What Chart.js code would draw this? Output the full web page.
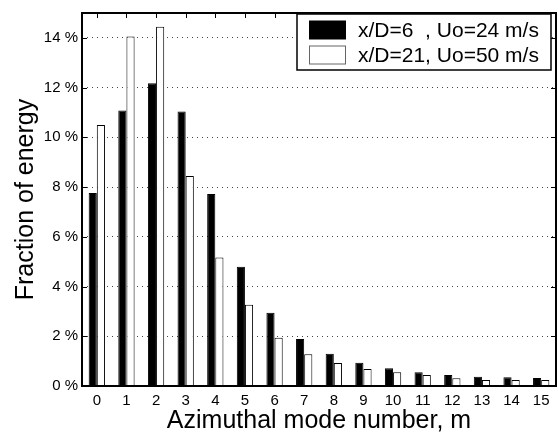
<!DOCTYPE html>
<html>
<head>
<meta charset="utf-8">
<script src="https://cdn.jsdelivr.net/npm/chart.js@4"></script>
<style>
  body { margin: 0; background: #fff; }
</style>
</head>
<body>
<canvas id="graph" width="558" height="432"></canvas>
<script>
// azimuthal mode numbers
const modes = ["0", "1", "2", "3", "4", "5", "6", "7", "8", "9", "10", "11", "12", "13", "14", "15"];
// fraction of energy in %
const nearField = [7.76, 11.08, 12.17, 11.04, 7.72, 4.8, 2.95, 1.89, 1.3, 0.94, 0.71, 0.55, 0.44, 0.37, 0.35, 0.32];
const farField = [10.5, 14.05, 14.45, 8.45, 5.17, 3.27, 1.94, 1.28, 0.92, 0.68, 0.55, 0.44, 0.31, 0.24, 0.24, 0.24];
const seriesLabels = ["x/D=6  , Uo=24 m/s", "x/D=21, Uo=50 m/s"];
const yTicks = [0, 2, 4, 6, 8, 10, 12, 14];

const fontFam = "'Liberation Sans', Arial, Helvetica, sans-serif";
const ctx = document.getElementById("graph").getContext('2d');

// box round the axes with inward ticks, like matlab draws it
const framePlugin = {
    id: 'frame',
    afterDatasetsDraw(chart) {
        const c = chart.ctx;
        const a = chart.chartArea;
        const xs = chart.scales.x;
        const ys = chart.scales.y;
        c.save();
        c.strokeStyle = '#000';
        c.lineWidth = 1;
        c.beginPath();
        yTicks.forEach(function (v) {
            let py = Math.round(ys.getPixelForValue(v)) + 0.5;
            c.moveTo(a.left, py); c.lineTo(a.left + 5, py);
            c.moveTo(a.right, py); c.lineTo(a.right - 5, py);
        });
        for (let i = 0; i < modes.length; i++) {
            let px = Math.round(xs.getPixelForValue(i)) + 0.5;
            c.moveTo(px, a.top); c.lineTo(px, a.top + 5);
        }
        c.stroke();
        c.lineWidth = 2;
        c.strokeRect(a.left, a.top, a.right - a.left, a.bottom - a.top);
        c.restore();
    }
};

// legend in the upper right corner, inside the axes
const legendPlugin = {
    id: 'boxLegend',
    afterDraw(chart) {
        const c = chart.ctx;
        const x0 = 297, y0 = 14, w = 254, h = 56;
        c.save();
        c.fillStyle = '#fff';
        c.fillRect(x0, y0, w, h);
        c.strokeStyle = '#000';
        c.lineWidth = 1.5;
        c.strokeRect(x0, y0, w, h);
        c.font = "21px " + fontFam;
        c.textBaseline = 'middle';
        chart.data.datasets.forEach(function (ds, i) {
            let cy = y0 + 16 + i * 25;
            c.fillStyle = ds.backgroundColor;
            c.fillRect(x0 + 12.5, cy - 9, 36, 18);
            c.lineWidth = 1;
            c.strokeStyle = ds.backgroundColor === '#000' ? '#000' : '#666';
            c.strokeRect(x0 + 12.5, cy - 9, 36, 18);
            c.fillStyle = '#000';
            c.fillText(ds.label, x0 + 61, cy + 1);
        });
        c.restore();
    }
};

const dataChart = new Chart(ctx, {
    type: 'bar',
    data: {
        labels: modes,
        datasets: [
            {
                label: seriesLabels[0],
                data: nearField,
                backgroundColor: '#000',
                borderColor: '#000',
                borderWidth: 1,
                categoryPercentage: 0.55,
                barPercentage: 1.0
            },
            {
                label: seriesLabels[1],
                data: farField,
                backgroundColor: '#fff',
                borderColor: '#000',
                borderWidth: 1,
                categoryPercentage: 0.55,
                barPercentage: 1.0
            }
        ]
    },
    options: {
        responsive: false,
        animation: false,
        layout: { padding: { left: 0, right: 2, top: 10, bottom: 0 } },
        plugins: {
            legend: { display: false },
            tooltip: { enabled: false }
        },
        scales: {
            x: {
                grid: { display: false, drawTicks: false },
                border: { display: false },
                ticks: {
                    color: '#000',
                    padding: 6,
                    maxRotation: 0,
                    autoSkip: false,
                    font: { family: fontFam, size: 15 }
                },
                title: {
                    display: true,
                    text: 'Azimuthal mode number, m',
                    color: '#000',
                    padding: 0,
                    font: { family: fontFam, size: 25, lineHeight: 0.9 }
                },
                afterFit: function (scale) { scale.height = 46; }
            },
            y: {
                min: 0,
                max: 15,
                grid: { color: '#444', lineWidth: 1, drawTicks: false },
                border: { display: false, dash: [1, 4] },
                afterBuildTicks: function (scale) {
                    scale.ticks = yTicks.map(function (v) { return { value: v }; });
                },
                ticks: {
                    color: '#000',
                    padding: 4,
                    font: { family: fontFam, size: 15 },
                    callback: function (v) { return v + ' %'; }
                },
                title: {
                    display: true,
                    text: 'Fraction of energy',
                    color: '#000',
                    padding: { top: 11, bottom: 0 },
                    font: { family: fontFam, size: 25, lineHeight: 1.2 }
                },
                afterFit: function (scale) { scale.width = 82; }
            }
        }
    },
    plugins: [framePlugin, legendPlugin]
});
</script>
</body>
</html>
